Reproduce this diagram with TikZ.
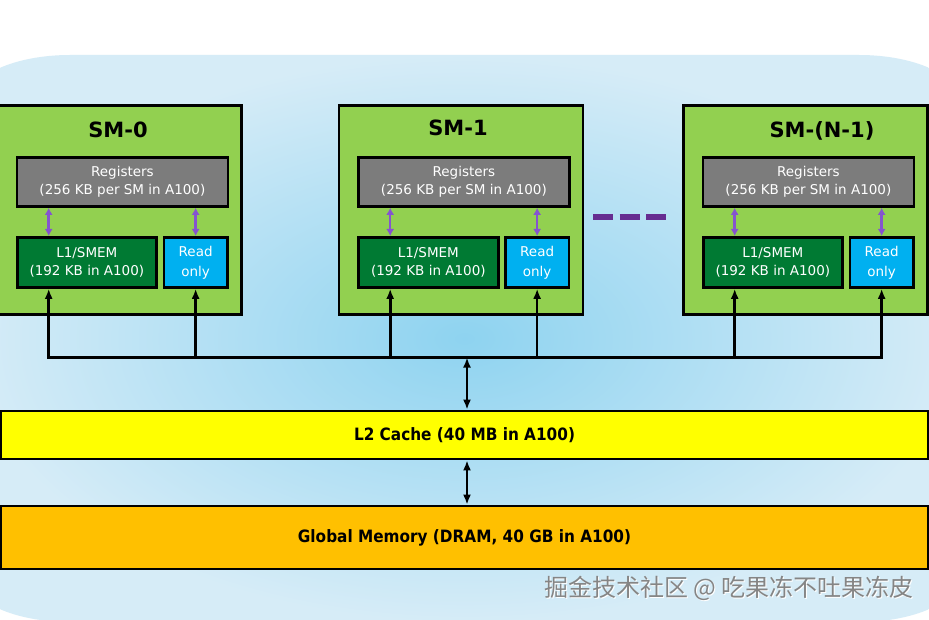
\documentclass[tikz,border=0pt]{standalone}
\usepackage{fontspec}
\setmainfont{DejaVu Sans}
\newfontfamily\cachefont[FakeStretch=0.9]{DejaVu Sans}
\newfontfamily\wmfont{Noto Sans CJK SC}
\usetikzlibrary{arrows.meta}
\definecolor{bginner}{RGB}{142,211,240}
\definecolor{bgouter}{RGB}{214,236,247}
\definecolor{smgreen}{RGB}{146,208,80}
\definecolor{reggray}{RGB}{124,124,124}
\definecolor{lonegreen}{RGB}{0,122,51}
\definecolor{rocyan}{RGB}{0,176,240}
\definecolor{ltwoyellow}{RGB}{255,255,0}
\definecolor{gmorange}{RGB}{255,192,0}
\definecolor{regpurple}{RGB}{133,84,207}
\definecolor{dashpurple}{RGB}{102,45,145}
\tikzset{
  memblock/.style={draw=black,line width=2.8pt,inner sep=0pt,align=center},
  smbox/.style={memblock,fill=smgreen,minimum width=244pt,minimum height=209pt},
  smtitle/.style={font=\bfseries\fontsize{21}{25}\selectfont},
  regbox/.style={memblock,fill=reggray,text=white,minimum width=211pt,minimum height=49pt,font=\fontsize{13.5}{18.5}\selectfont},
  lonebox/.style={memblock,fill=lonegreen,text=white,minimum width=139.5pt,minimum height=50pt,font=\fontsize{13.5}{18.5}\selectfont},
  robox/.style={memblock,fill=rocyan,text=white,minimum width=63.5pt,minimum height=50pt,font=\fontsize{13.5}{20}\selectfont},
  cachebox/.style={memblock,minimum width=927pt,font=\cachefont\bfseries\fontsize{17}{20}\selectfont},
  regarrow/.style={draw=regpurple,line width=2.5pt,{Latex[length=7pt,width=8pt]}-{Latex[length=7pt,width=8pt]}},
  busline/.style={draw=black,line width=2.6pt,line cap=rect},
  busarrow/.style={draw=black,line width=2.6pt,-{Latex[length=10pt,width=8pt]}},
  linkarrow/.style={draw=black,line width=2.6pt,{Latex[length=10pt,width=8pt]}-{Latex[length=10pt,width=8pt]}},
  dashline/.style={draw=dashpurple,line width=6.5pt,dash pattern=on 20pt off 6.5pt},
  wmark/.style={font=\wmfont\fontsize{24}{28}\selectfont,text=black!48}
}
\begin{document}
\begin{tikzpicture}[x=1pt,y=-1pt]
\useasboundingbox (0,0) rectangle (929,620);
\fill[white] (0,0) rectangle (929,620);
% background panel
\shade[inner color=bginner,outer color=bgouter] (-30,100)
  arc[start angle=180,end angle=270,x radius=100,y radius=45] -- (859,55)
  arc[start angle=270,end angle=360,x radius=100,y radius=45] -- (959,577)
  arc[start angle=0,end angle=90,x radius=100,y radius=45] -- (70,622)
  arc[start angle=90,end angle=180,x radius=100,y radius=45] -- cycle;
\coordinate (busy) at (0,357.5);
% streaming multiprocessors
\foreach \i/\x/\tx/\ty/\name in {0/-4/118/130/SM-0,1/337.5/458/128/SM-1,2/682/822/131/{SM-(N-1)}}{
  \node[smbox,anchor=north west] (sm\i) at (\x,104.5) {};
  \node[smtitle] (title\i) at (\tx,\ty) {\name};
  \node[regbox,anchor=north west] (reg\i) at (\x+19.5,156) {Registers\\(256 KB per SM in A100)};
  \node[lonebox,anchor=north west] (lone\i) at (\x+19.7,236) {L1/SMEM\\(192 KB in A100)};
  \node[robox,anchor=north west] (ro\i) at (\x+166.5,236) {Read\\only};
  \coordinate (lx\i) at ([xshift=33pt]lone\i.north west);
  \draw[regarrow] (lx\i |- reg\i.south) -- (lx\i);
  \draw[regarrow] (ro\i.north |- reg\i.south) -- (ro\i.north);
  \draw[busarrow] (lx\i |- busy) -- (lx\i |- lone\i.south);
  \draw[busarrow] (ro\i.south |- busy) -- (ro\i.south);
}
\draw[busline] (lx0 |- busy) -- (ro2.south |- busy);
% more SMs
\coordinate (dotsL) at (593,217);
\coordinate (dotsR) at (666,217);
\draw[dashline] (dotsL) -- (dotsR);
% shared levels
\node[cachebox,fill=ltwoyellow,minimum height=48pt] (ltwo) at (464.5,435) {L2 Cache (40 MB in A100)};
\node[cachebox,fill=gmorange,minimum height=63pt] (gm) at (464.5,537.5) {Global Memory (DRAM, 40 GB in A100)};
\coordinate (busmid) at (467,357.5);
\draw[linkarrow] (ltwo.north -| busmid) -- (busmid);
\draw[linkarrow] (ltwo.south -| busmid) -- (gm.north -| busmid);
% watermark
\node[wmark,text=white] (wmshade) at (730,589) {掘金技术社区 @ 吃果冻不吐果冻皮};
\node[wmark] (wm) at (729,588) {掘金技术社区 @ 吃果冻不吐果冻皮};
\end{tikzpicture}
\end{document}
